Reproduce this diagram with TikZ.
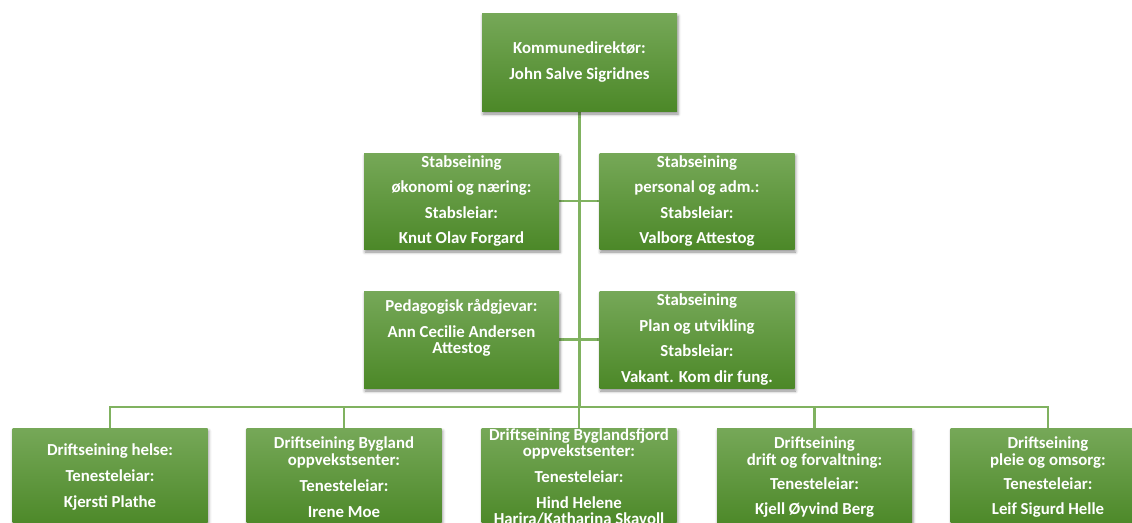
\documentclass[tikz,border=0pt]{standalone}
\usepackage{fontspec}
\setmainfont{Carlito}
\usetikzlibrary{shadows.blur,backgrounds}
\definecolor{gtop}{RGB}{118,168,88}
\definecolor{gbot}{RGB}{76,136,40}
\definecolor{lineg}{RGB}{128,178,96}
\tikzset{
  box/.style={rectangle, minimum width=195pt, minimum height=97pt, inner sep=0pt,
    top color=gtop, bottom color=gbot, text=white, align=center,
    font=\bfseries\fontsize{16.8}{16.8}\selectfont,
    blur shadow={shadow xshift=1pt, shadow yshift=-3pt, shadow blur radius=3pt, shadow opacity=45}},
  conn/.style={draw=lineg, line width=2.8pt},
}
\begin{document}
\begin{tikzpicture}[x=1pt,y=-1pt]
\useasboundingbox (0,0) rectangle (1132,522);
\clip (0,0) rectangle (1132,522);
\node[box, minimum height=98pt] (top) at (579.5,62) {Kommunedirektør:\\[8.5pt]John Salve Sigridnes};
\node[box, minimum height=96pt] (s1) at (461.5,201) {Stabseining\\[8.8pt]økonomi og næring:\\[8.8pt]Stabsleiar:\\[8.8pt]Knut Olav Forgard};
\node[box, minimum height=96pt] (s2) at (697,201) {Stabseining\\[8.8pt]personal og adm.:\\[8.8pt]Stabsleiar:\\[8.8pt]Valborg Attestog};
\node[box] (s3) at (461.5,339.5) {Pedagogisk rådgjevar:\\[8.8pt]Ann Cecilie Andersen\\Attestog\\[8.8pt]\mbox{}};
\node[box] (s4) at (697,339.5) {Stabseining\\[8.8pt]Plan og utvikling\\[8.8pt]Stabsleiar:\\[8.8pt]Vakant. Kom dir fung.};
\node[box, minimum height=98pt] (b1) at (110,477) {Driftseining helse:\\[8.8pt]Tenesteleiar:\\[8.8pt]Kjersti Plathe};
\node[box, minimum height=98pt] (b2) at (344,477) {Driftseining Bygland\\oppvekstsenter:\\[10pt]Tenesteleiar:\\[8.8pt]Irene Moe};
\node[box, minimum height=98pt] (b3) at (579,477) {Driftseining Byglandsfjord\\oppvekstsenter:\\[8.8pt]Tenesteleiar:\\[8.8pt]Hind Helene\\Harira/Katharina Skavoll};
\node[box, minimum height=98pt] (b4) at (814.5,477) {Driftseining\\drift og forvaltning:\\[7.5pt]Tenesteleiar:\\[7.5pt]Kjell Øyvind Berg};
\node[box, minimum height=98pt] (b5) at (1048,477) {Driftseining\\pleie og omsorg:\\[7.5pt]Tenesteleiar:\\[7.5pt]Leif Sigurd Helle};
\coordinate (bus) at (579,407);
\begin{scope}[on background layer]
\draw[conn] (top.south) -- (top.south |- bus);
\draw[conn] (s1.east) -- (s2.west);
\draw[conn] (s3.east) -- (s4.west);
\draw[conn] (b1.north) -- (b1.north |- bus) -- (b5.north |- bus) -- (b5.north);
\draw[conn] (b2.north) -- (b2.north |- bus);
\draw[conn] (b3.north) -- (b3.north |- bus);
\draw[conn] (b4.north) -- (b4.north |- bus);
\end{scope}
\end{tikzpicture}
\end{document}
